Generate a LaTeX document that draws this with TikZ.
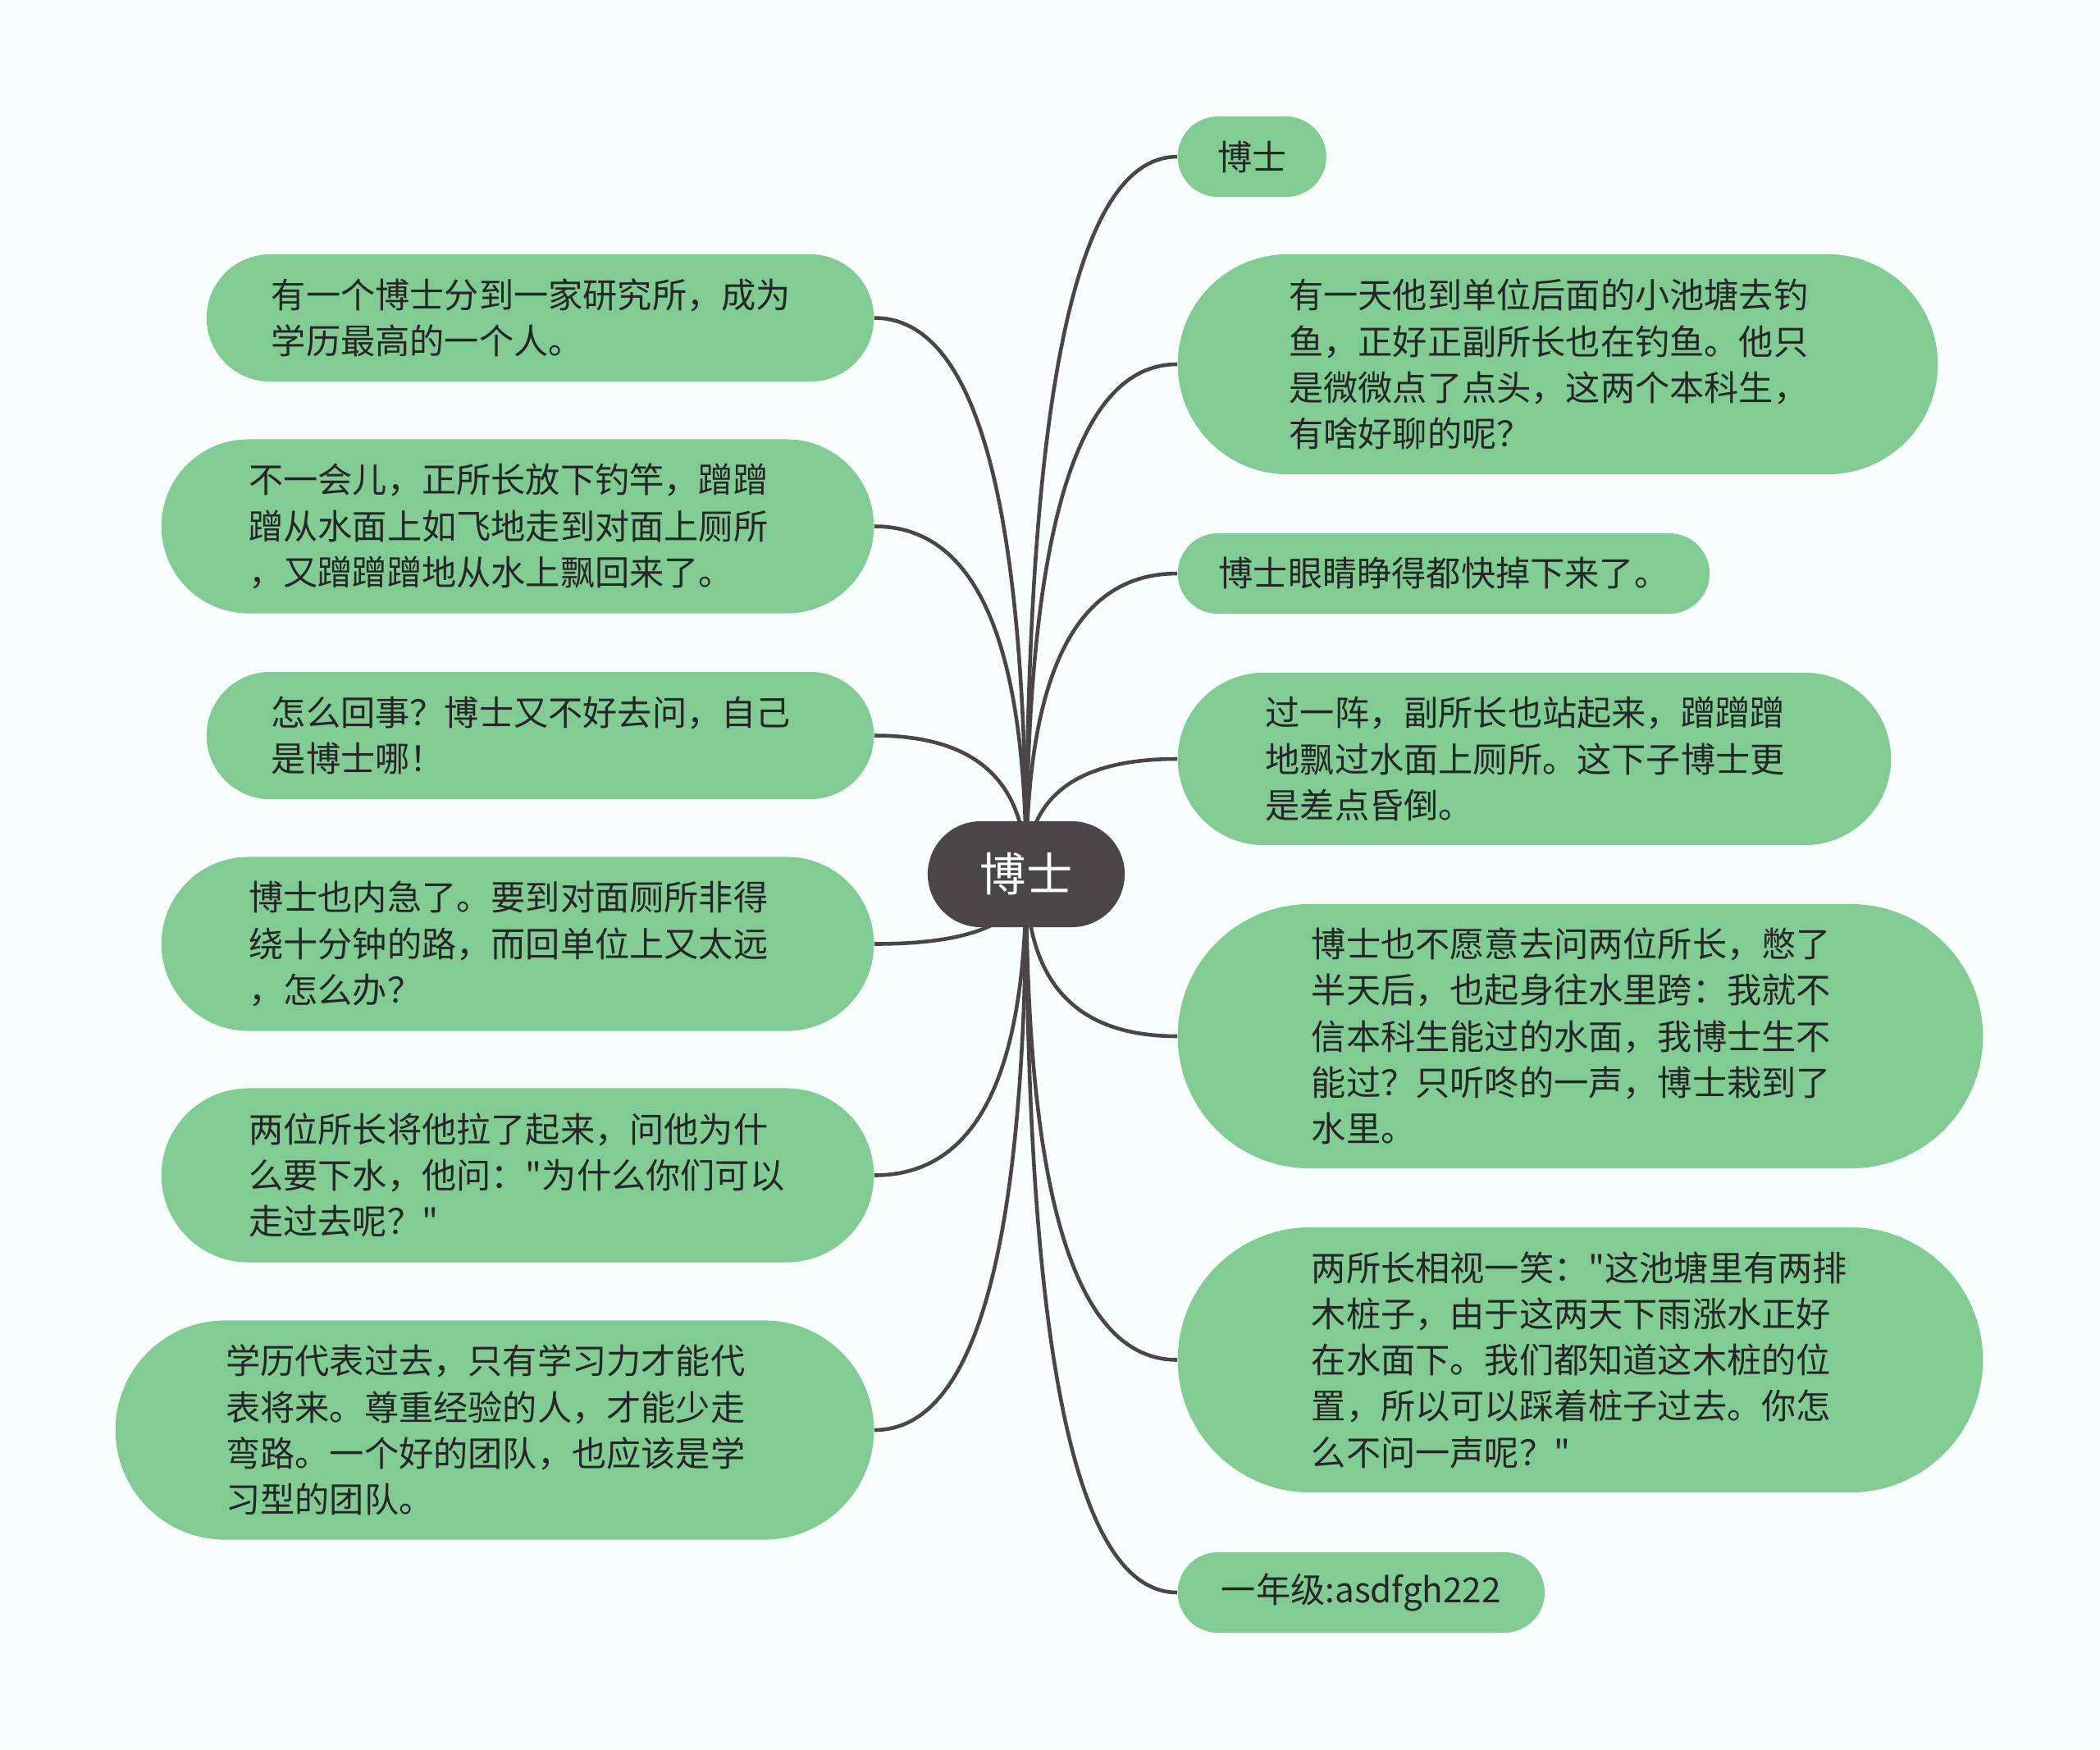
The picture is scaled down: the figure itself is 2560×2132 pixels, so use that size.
\documentclass[tikz,border=0pt]{standalone}
\usepackage{fontspec}
\newfontfamily\cjkfont{Noto Sans CJK SC}
\usetikzlibrary{shapes.misc, calc, backgrounds}
\definecolor{leafgreen}{RGB}{128, 204, 146}
\definecolor{rootgray}{RGB}{74, 69, 70}
\definecolor{inkdark}{RGB}{38, 38, 38}
\definecolor{paperbg}{RGB}{248, 253, 254}

\tikzset{
    leaf/.style={rounded rectangle, fill=leafgreen, text=inkdark, inner xsep=0pt, inner ysep=4pt,
                 font=\cjkfont\fontsize{12}{16}\selectfont},
    para/.style={leaf, text width=6.55cm, align=left},
    branch/.style={draw=rootgray, line width=1.3pt,
        to path={.. controls ($(\tikztostart)!.67!(\tikztostart |- \tikztotarget)$)
                     and ($(\tikztotarget)!.67!(\tikztostart |- \tikztotarget)$) .. (\tikztotarget)}}
}

\begin{document}
\begin{tikzpicture}[x=0.01cm, y=-0.01cm]
    \useasboundingbox (0,0) rectangle (2560,2132);

    % Centre: 博士
    \node[rounded rectangle, fill=rootgray, text=white, inner xsep=0pt,
          minimum width=2.40cm, minimum height=1.29cm,
          font=\cjkfont\fontsize{16}{20}\selectfont] (root) at (1251, 1065.5) {博士};

    % Left side
    \node[para, anchor=east, minimum width=8.13cm, minimum height=1.55cm] (l1) at (1066, 387.5)
        {有一个博士分到一家研究所，成为\\学历最高的一个人。};
    \node[para, anchor=east, minimum width=8.68cm, minimum height=2.12cm] (l2) at (1066, 641.5)
        {不一会儿，正所长放下钓竿，蹭蹭\\蹭从水面上如飞地走到对面上厕所\\，又蹭蹭蹭地从水上飘回来了。};
    \node[para, anchor=east, minimum width=8.13cm, minimum height=1.55cm] (l3) at (1066, 896.5)
        {怎么回事？博士又不好去问，自己\\是博士哪！};
    \node[para, anchor=east, minimum width=8.68cm, minimum height=2.12cm] (l4) at (1066, 1150.5)
        {博士也内急了。要到对面厕所非得\\绕十分钟的路，而回单位上又太远\\，怎么办？};
    \node[para, anchor=east, minimum width=8.68cm, minimum height=2.12cm] (l5) at (1066, 1432.5)
        {两位所长将他拉了起来，问他为什\\么要下水，他问："为什么你们可以\\走过去呢？"};
    \node[para, anchor=east, minimum width=9.24cm, minimum height=2.67cm] (l6) at (1066, 1743)
        {学历代表过去，只有学习力才能代\\表将来。尊重经验的人，才能少走\\弯路。一个好的团队，也应该是学\\习型的团队。};

    % Right side
    \node[leaf, anchor=west, minimum width=1.81cm, minimum height=0.98cm] (r1) at (1435, 191) {博士};
    \node[para, anchor=west, minimum width=9.26cm, minimum height=2.68cm] (r2) at (1435, 444)
        {有一天他到单位后面的小池塘去钓\\鱼，正好正副所长也在钓鱼。他只\\是微微点了点头，这两个本科生，\\有啥好聊的呢？};
    \node[leaf, anchor=west, minimum width=6.48cm, minimum height=0.98cm] (r3) at (1435, 699)
        {博士眼睛睁得都快掉下来了。};
    \node[para, anchor=west, minimum width=8.69cm, minimum height=2.10cm] (r4) at (1435, 925)
        {过一阵，副所长也站起来，蹭蹭蹭\\地飘过水面上厕所。这下子博士更\\是差点昏倒。};
    \node[para, anchor=west, minimum width=9.81cm, minimum height=3.22cm] (r5) at (1435, 1263)
        {博士也不愿意去问两位所长，憋了\\半天后，也起身往水里跨：我就不\\信本科生能过的水面，我博士生不\\能过？只听咚的一声，博士栽到了\\水里。};
    \node[para, anchor=west, minimum width=9.81cm, minimum height=3.23cm] (r6) at (1435, 1657.5)
        {两所长相视一笑："这池塘里有两排\\木桩子，由于这两天下雨涨水正好\\在水面下。我们都知道这木桩的位\\置，所以可以踩着桩子过去。你怎\\么不问一声呢？"};
    \node[leaf, anchor=west, minimum width=4.47cm, minimum height=0.98cm] (r7) at (1435, 1941)
        {一年级:asdfgh222};

    % Branches, under the nodes
    \begin{scope}[on background layer]
        \fill[paperbg] (0,0) rectangle (2560,2132);
        \draw[branch] (root.center) to (l1.east);
        \draw[branch] (root.center) to (l2.east);
        \draw[branch] (root.center) to (l3.east);
        \draw[branch] (root.center) to (l4.east);
        \draw[branch] (root.center) to (l5.east);
        \draw[branch] (root.center) to (l6.east);
        \draw[branch] (root.center) to (r1.west);
        \draw[branch] (root.center) to (r2.west);
        \draw[branch] (root.center) to (r3.west);
        \draw[branch] (root.center) to (r4.west);
        \draw[branch] (root.center) to (r5.west);
        \draw[branch] (root.center) to (r6.west);
        \draw[branch] (root.center) to (r7.west);
    \end{scope}
\end{tikzpicture}
\end{document}
